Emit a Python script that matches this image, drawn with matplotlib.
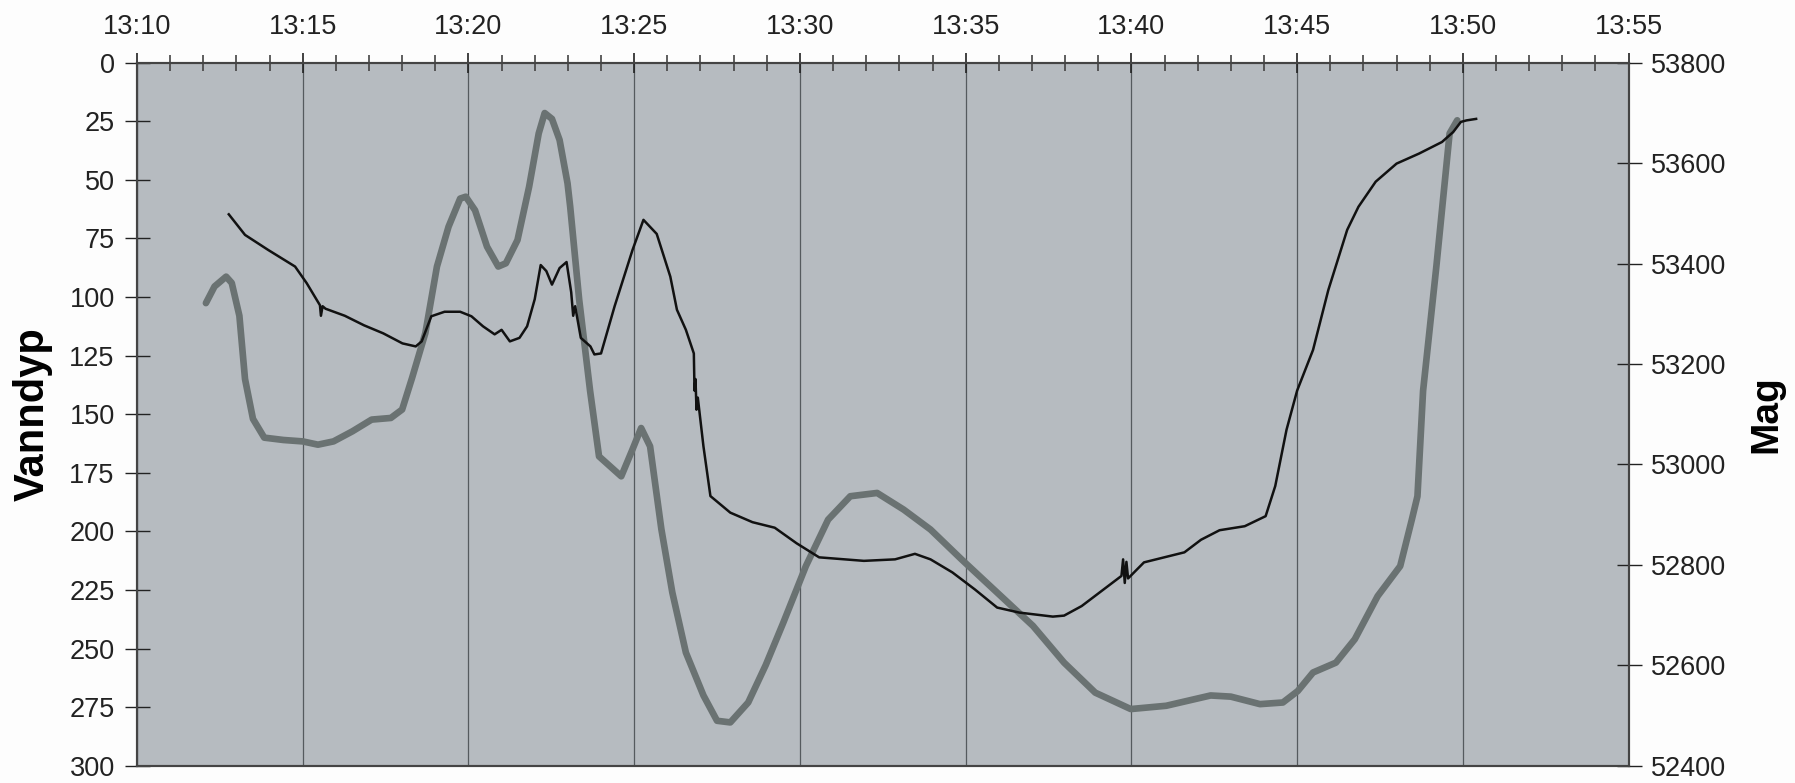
import numpy as np
import pandas as pd
import matplotlib
matplotlib.use('Agg')
import matplotlib.pyplot as plt
import matplotlib.dates as mdates

# minutes after 13:10 and values
start = pd.Timestamp('2000-01-01 13:10')

depth_min = [2.08, 2.34, 2.69, 2.86, 3.09, 3.26, 3.5, 3.84, 4.42, 5.0, 5.46, 5.93, 6.5, 7.08,
             7.66, 8.0, 8.3, 8.7, 9.05, 9.4, 9.75, 9.92, 10.2, 10.56, 10.9, 11.13, 11.48, 11.83,
             12.12, 12.3, 12.52, 12.75, 12.99, 13.07, 13.34, 13.67, 13.94, 14.61, 14.95, 15.21,
             15.48, 15.82, 16.15, 16.56, 17.09, 17.5, 17.9, 18.44, 18.97, 19.5, 20.18, 20.85,
             21.52, 22.33, 23.13, 23.94, 24.88, 25.95, 27.03, 27.97, 28.91, 29.98, 31.05, 32.39,
             33.0, 33.88, 34.57, 35.02, 35.48, 36.17, 36.74, 37.43, 38.11, 38.46, 38.63, 38.8,
             39.2, 39.6, 39.83]
vanndyp = [102.6, 95.5, 91.3, 94, 108, 135, 152, 160, 161, 161.6, 163, 161.6, 157.3, 152.3,
           151.6, 148, 134.5, 115.4, 87, 70, 58, 57.2, 63, 78.5, 87, 85.6, 75.7, 53,
           30.2, 21.5, 24, 33, 51.5, 61.5, 101, 140, 168, 176.5, 165, 155.9,
           163.7, 199, 226, 251.7, 270, 280.8, 281.5, 273, 257, 238.9, 214.8, 195,
           185, 183.6, 190.7, 199.2, 212, 226.1, 240.3, 256, 268.8, 275.8, 274.4, 270,
           270.5, 273.7, 273, 268.1, 260.2, 256, 246, 227.6, 214.8, 195, 185, 140,
           87, 30.2, 24.6]

mag_min = [2.77, 3.26, 3.96, 4.77, 5.12, 5.52, 5.55, 5.6, 5.69, 6.27, 6.85, 7.43, 8.01, 8.41,
           8.59, 8.88, 9.28, 9.75, 10.09, 10.44, 10.79, 11.0, 11.25, 11.54, 11.77, 12.0, 12.18,
           12.35, 12.52, 12.75, 12.96, 13.1, 13.16, 13.22, 13.39, 13.68, 13.8, 14.0, 14.41,
           14.95, 15.28, 15.68, 16.09, 16.29, 16.56, 16.8, 16.82, 16.85, 16.88, 16.92, 17.09,
           17.3, 17.9, 18.57, 19.24, 19.9, 20.58, 21.93, 22.87, 23.47, 23.94, 24.6, 25.28,
           25.95, 26.62, 27.63, 27.97, 28.5, 29.3, 29.7, 29.75, 29.8, 29.85, 29.9, 30.38,
           31.6, 32.1, 32.66, 33.42, 34.05, 34.34, 34.68, 35.0, 35.48, 35.94, 36.51, 36.85,
           37.37, 38.0, 38.68, 39.37, 39.71, 39.94, 40.11, 40.4]
mag = [53498, 53457, 53427, 53394, 53361, 53317, 53296, 53315, 53310, 53296, 53277, 53261, 53241, 53235,
       53245, 53295, 53304, 53304, 53295, 53275, 53259, 53268, 53245, 53252, 53275, 53329, 53397,
       53385, 53358, 53391, 53403, 53343, 53296, 53315, 53252, 53235, 53219, 53221, 53315,
       53427, 53487, 53459, 53374, 53308, 53268, 53221, 53147, 53170, 53109, 53133, 53036,
       52937, 52904, 52885, 52874, 52843, 52815, 52808, 52811, 52822, 52811, 52785, 52751,
       52715, 52705, 52697, 52699, 52718, 52758, 52778, 52811, 52764, 52806, 52773, 52805,
       52825, 52850, 52869, 52877, 52897, 52957, 53069, 53147, 53228, 53347, 53467, 53513,
       53563, 53599, 53619, 53642, 53662, 53682, 53685, 53688]

t_depth = start + pd.to_timedelta(depth_min, unit='m')
t_mag = start + pd.to_timedelta(mag_min, unit='m')

plt.rcParams['font.family'] = ['Liberation Sans', 'DejaVu Sans']

fig = plt.figure(figsize=(17.95, 7.83), dpi=100)
fig.patch.set_facecolor('#fdfdfd')
ax = fig.add_axes([0.0763, 0.022, 0.831, 0.898])
ax.set_facecolor('#b6bbc0')

ax.plot(t_depth, vanndyp, color='#6a7272', lw=4.8, solid_capstyle='round',
        solid_joinstyle='round', zorder=3)
ax.set_ylim(300, 0)
ax.set_xlim(start, start + pd.Timedelta(minutes=45))
ax.set_yticks(np.arange(0, 301, 25))

ax2 = ax.twinx()
ax2.plot(t_mag, mag, color='#111111', lw=1.8, zorder=4)
ax2.set_ylim(52400, 53800)
ax2.set_yticks(np.arange(52400, 53801, 200))

# time axis on top
ax.xaxis.tick_top()
ax.xaxis.set_major_locator(mdates.MinuteLocator(byminute=range(0, 60, 5)))
ax.xaxis.set_minor_locator(mdates.MinuteLocator())
ax.xaxis.set_major_formatter(mdates.DateFormatter('%H:%M'))
ax.grid(axis='x', which='major', color='#555a5e', lw=0.9)

ax.tick_params(axis='x', which='major', direction='inout', length=14, width=1.2,
               labelsize=19.5, pad=9, colors='#222222')
ax.tick_params(axis='x', which='minor', direction='inout', length=11, width=1.2, colors='#444444')
ax.tick_params(axis='y', direction='inout', length=18, width=1.0, labelsize=19.5, pad=7, colors='#222222')
ax2.tick_params(axis='y', direction='inout', length=18, width=1.0, labelsize=19.5, pad=7, colors='#222222')

for a in (ax, ax2):
    for s in a.spines.values():
        s.set_color('#444444')
        s.set_linewidth(1.5)

ax.set_ylabel('Vanndyp', fontsize=30, fontweight='bold', labelpad=12)
ax2.set_ylabel('Mag', fontsize=28, fontweight='bold', labelpad=16)

fig.savefig('out.png', dpi=100, facecolor=fig.get_facecolor())
